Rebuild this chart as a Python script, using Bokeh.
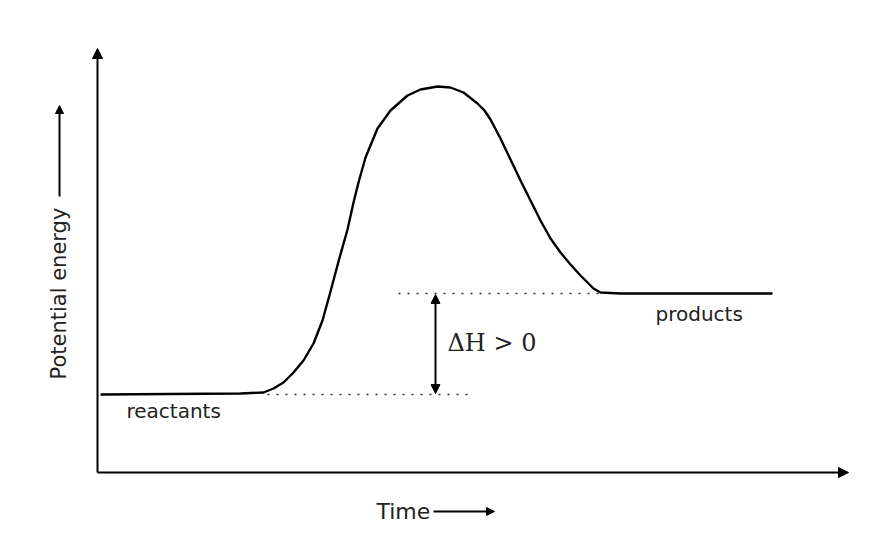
from bokeh.plotting import figure
from bokeh.models import Range1d, Arrow, NormalHead, Label
from bokeh.embed import file_html
from bokeh.resources import INLINE
import math

# Reaction profile (time, potential energy)
time = [3, 143, 166, 176, 186, 196, 206, 216, 225, 233, 241, 250, 256, 261, 268, 280,
        293, 310, 323, 340, 353, 366, 380, 387, 393, 403, 413, 423, 433, 443, 453, 463,
        473, 483, 496, 503, 523, 675]
energy = [78, 79, 80, 84, 90, 100, 112, 129, 152, 181, 211, 243, 270, 290, 315, 344,
          362, 377, 383, 386, 385, 380, 369, 362, 353, 334, 313, 292, 272, 252, 234, 220,
          208, 197, 184, 180, 179, 179]

reactant_level = 78
product_level = 179
react_dots = [170, 376]
prod_dots = [301, 503]
dH_x = 338
labels = {"reactants": (29, 62), "products": (558, 159)}
dH_label = "ΔH > 0"

p = figure(width=873, height=547, output_backend="svg", toolbar_location=None,
           x_range=Range1d(-97, 776), y_range=Range1d(-75, 472),
           min_border=0)
p.axis.visible = False
p.grid.visible = False
p.outline_line_color = None

def arrow(x0, y0, x1, y1, w=2, size=10, both=False):
    head = NormalHead(size=size, fill_color="black", line_color="black", line_width=1)
    start = NormalHead(size=size, fill_color="black", line_color="black", line_width=1) if both else None
    p.add_layout(Arrow(end=head, start=start, x_start=x0, y_start=y0, x_end=x1, y_end=y1,
                       line_width=w, line_color="black"))

# axes with arrow heads
arrow(0, 0, 0, 424, w=2)
arrow(0, 0, 751, 0, w=2)

# curve
p.line(time, energy, line_color="black", line_width=2.4, line_join="round")

# dotted levels
p.line(react_dots, [reactant_level] * 2, line_color="#333333", line_width=1.6, line_dash="2 7")
p.line(prod_dots, [product_level] * 2, line_color="#333333", line_width=1.6, line_dash="2 7")

# delta H double arrow
arrow(dH_x, reactant_level + 1, dH_x, product_level - 1, w=2, size=9, both=True)

for txt, (x, y) in labels.items():
    p.add_layout(Label(x=x, y=y, text=txt, text_font="DejaVu Sans", text_font_size="20px",
                       text_baseline="middle", text_align="left", text_color="#222222"))

p.add_layout(Label(x=350, y=130, text=dH_label, text_font="DejaVu Serif", text_font_size="24px",
                   text_baseline="middle", text_align="left", text_color="#222222"))

# axis titles with arrows
p.add_layout(Label(x=279, y=-39, text="Time", text_font="DejaVu Sans", text_font_size="22px",
                   text_baseline="middle", text_align="left", text_color="#222222"))
arrow(336, -39, 397, -39, w=2, size=8)

p.add_layout(Label(x=-39, y=93, text="Potential energy", text_font="DejaVu Sans", text_font_size="21px",
                   text_baseline="middle", text_align="left", angle=math.pi / 2, text_color="#222222"))
arrow(-38, 276, -38, 367, w=2, size=8)

open("out.html", "w").write(file_html(p, INLINE))
